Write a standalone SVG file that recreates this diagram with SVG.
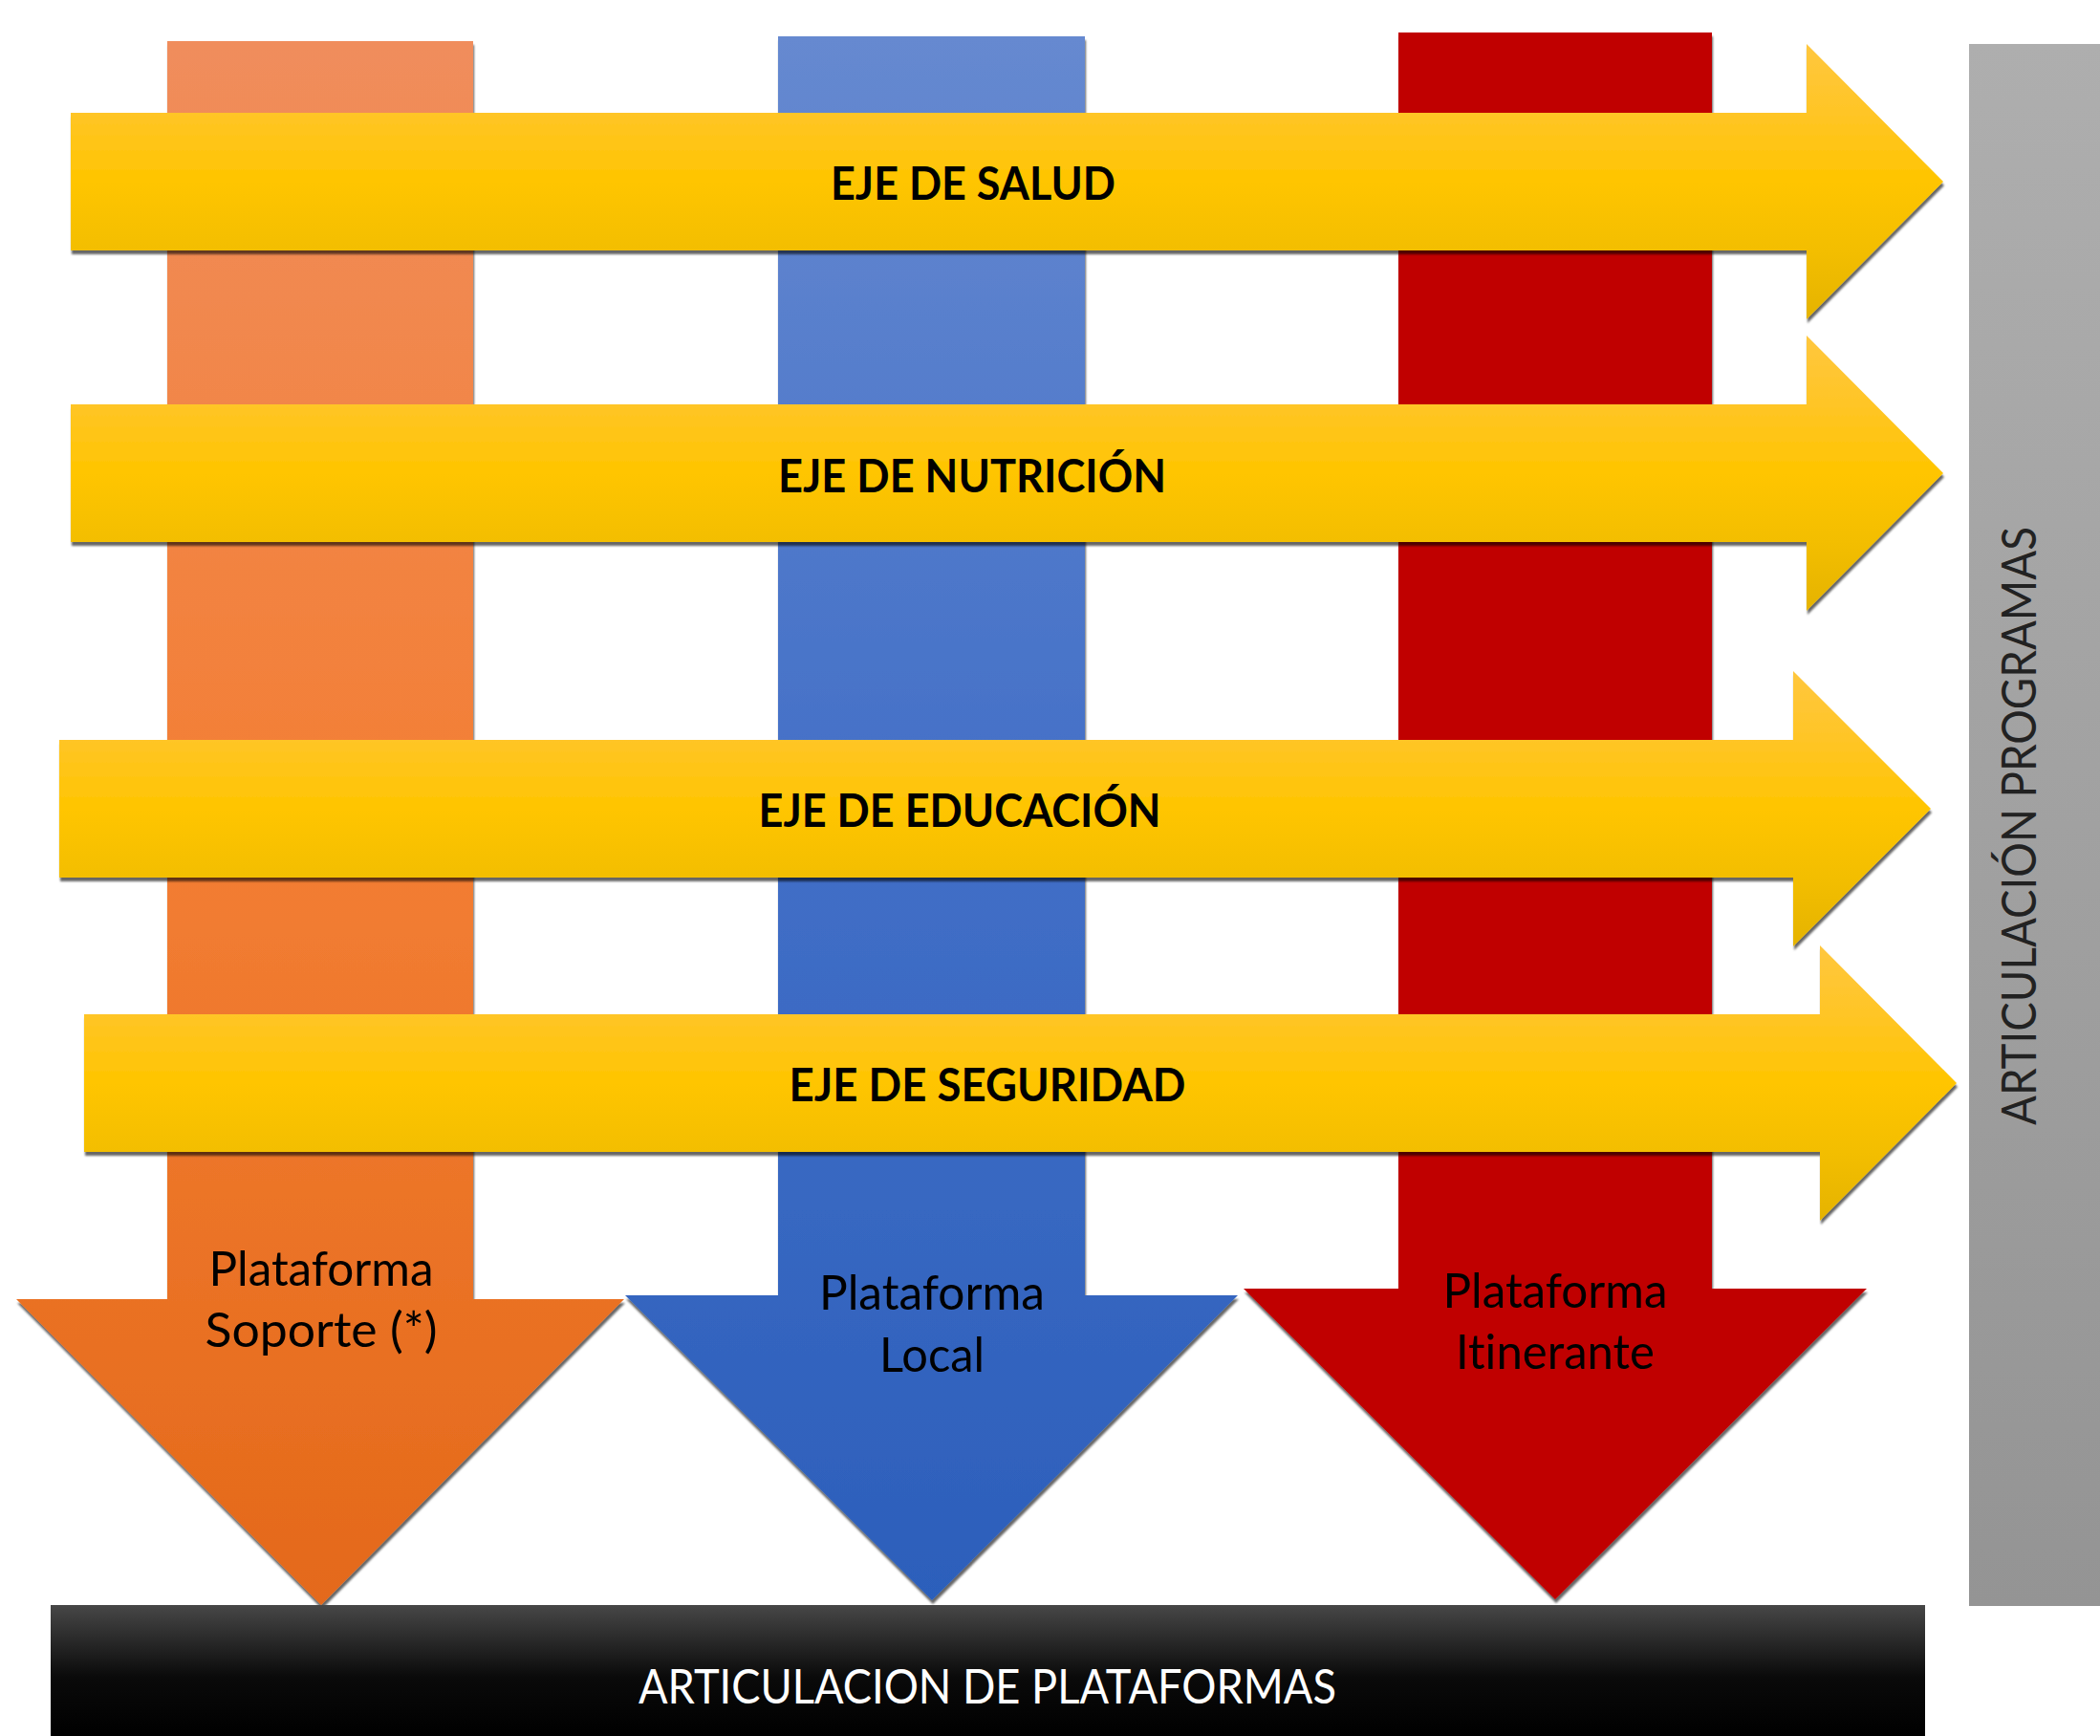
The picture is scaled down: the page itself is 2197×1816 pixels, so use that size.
<svg xmlns="http://www.w3.org/2000/svg" width="2197" height="1816" viewBox="0 0 2197 1816">
<style>
text{font-variant-ligatures:none;font-feature-settings:"liga" 0}
.lbl{font-family:Lato,"Open Sans","Liberation Sans",sans-serif;font-weight:700;font-size:47px;fill:#000;text-anchor:middle}
.plat{font-family:Lato,"Open Sans","Liberation Sans",sans-serif;font-size:50px;fill:#000;text-anchor:middle}
.bar{font-family:Lato,"Open Sans","Liberation Sans",sans-serif;font-size:50px;text-anchor:middle}
</style>
<defs>
<linearGradient id="gOr" gradientUnits="userSpaceOnUse" x1="0" y1="43" x2="0" y2="1679">
<stop offset="0" stop-color="#F08D5C"/><stop offset="0.5" stop-color="#F37E34"/><stop offset="1" stop-color="#E4691A"/>
</linearGradient>
<linearGradient id="gBl" gradientUnits="userSpaceOnUse" x1="0" y1="38" x2="0" y2="1674">
<stop offset="0" stop-color="#6689D0"/><stop offset="0.5" stop-color="#426FC7"/><stop offset="1" stop-color="#2C5FBB"/>
</linearGradient>
<linearGradient id="gYe" x1="0" y1="0" x2="0" y2="1">
<stop offset="0" stop-color="#FFC73E"/><stop offset="0.25" stop-color="#FFC526"/><stop offset="0.5" stop-color="#FFC500"/><stop offset="0.75" stop-color="#F3BE00"/><stop offset="1" stop-color="#E5B300"/>
</linearGradient>
<linearGradient id="gGr" x1="0" y1="0" x2="0" y2="1">
<stop offset="0" stop-color="#AEAEAE"/><stop offset="1" stop-color="#949494"/>
</linearGradient>
<linearGradient id="gBk" x1="0" y1="0" x2="0" y2="1">
<stop offset="0" stop-color="#474747"/><stop offset="0.55" stop-color="#0a0a0a"/><stop offset="1" stop-color="#000"/>
</linearGradient>
<filter id="sh" x="-5%" y="-5%" width="110%" height="115%">
<feDropShadow dx="1" dy="4" stdDeviation="1.2" flood-color="#000" flood-opacity="0.6"/>
</filter>
</defs>

<g id="programas">
<rect x="2060" y="46" width="137" height="1634" fill="url(#gGr)"/>
<text class="bar" fill="#222" transform="translate(2130,864) rotate(-90)" textLength="626" lengthAdjust="spacingAndGlyphs">ARTICULACIÓN PROGRAMAS</text>
</g>

<g id="plataforma-soporte">
<path d="M175,43 H495 V1359 H653 L336,1679 L17,1359 H175 Z" fill="url(#gOr)" filter="url(#sh)"/>
<text class="plat" x="336" y="1345" textLength="235" lengthAdjust="spacingAndGlyphs">Plataforma</text>
<text class="plat" x="336" y="1409" textLength="243" lengthAdjust="spacingAndGlyphs">Soporte (*)</text>
</g>

<g id="plataforma-local">
<path d="M814,38 H1135 V1355 H1295 L975,1674 L654,1355 H814 Z" fill="url(#gBl)" filter="url(#sh)"/>
<text class="plat" x="975" y="1370" textLength="236" lengthAdjust="spacingAndGlyphs">Plataforma</text>
<text class="plat" x="975" y="1435" textLength="110" lengthAdjust="spacingAndGlyphs">Local</text>
</g>

<g id="plataforma-itinerante">
<path d="M1463,34 H1791 V1348 H1953 L1627,1673 L1301,1348 H1463 Z" fill="#C00000" filter="url(#sh)"/>
<text class="plat" x="1627" y="1368" textLength="235" lengthAdjust="spacingAndGlyphs">Plataforma</text>
<text class="plat" x="1627" y="1432" textLength="208" lengthAdjust="spacingAndGlyphs">Itinerante</text>
</g>

<g id="eje-salud">
<path d="M74,118 H1890 V46 L2033,190 L1890,334 V262 H74 Z" fill="url(#gYe)" filter="url(#sh)"/>
<text class="lbl" x="1018" y="209" textLength="298" lengthAdjust="spacingAndGlyphs">EJE DE SALUD</text>
</g>

<g id="eje-nutricion">
<path d="M74,423 H1890 V351 L2033,495 L1890,639 V567 H74 Z" fill="url(#gYe)" filter="url(#sh)"/>
<text class="lbl" x="1017" y="515" textLength="406" lengthAdjust="spacingAndGlyphs">EJE DE NUTRICIÓN</text>
</g>

<g id="eje-educacion">
<path d="M62,774 H1876 V702 L2020,846 L1876,990 V918 H62 Z" fill="url(#gYe)" filter="url(#sh)"/>
<text class="lbl" x="1004" y="865" textLength="421" lengthAdjust="spacingAndGlyphs">EJE DE EDUCACIÓN</text>
</g>

<g id="eje-seguridad">
<path d="M88,1061 H1904 V989 L2047,1133 L1904,1277 V1205 H88 Z" fill="url(#gYe)" filter="url(#sh)"/>
<text class="lbl" x="1033" y="1152" textLength="415" lengthAdjust="spacingAndGlyphs">EJE DE SEGURIDAD</text>
</g>

<g id="articulacion-plataformas">
<rect x="53" y="1679" width="1961" height="137" fill="url(#gBk)"/>
<text class="bar" fill="#fff" x="1033" y="1782" textLength="730" lengthAdjust="spacingAndGlyphs">ARTICULACION DE PLATAFORMAS</text>
</g>

<g id="connectors"/>
</svg>
